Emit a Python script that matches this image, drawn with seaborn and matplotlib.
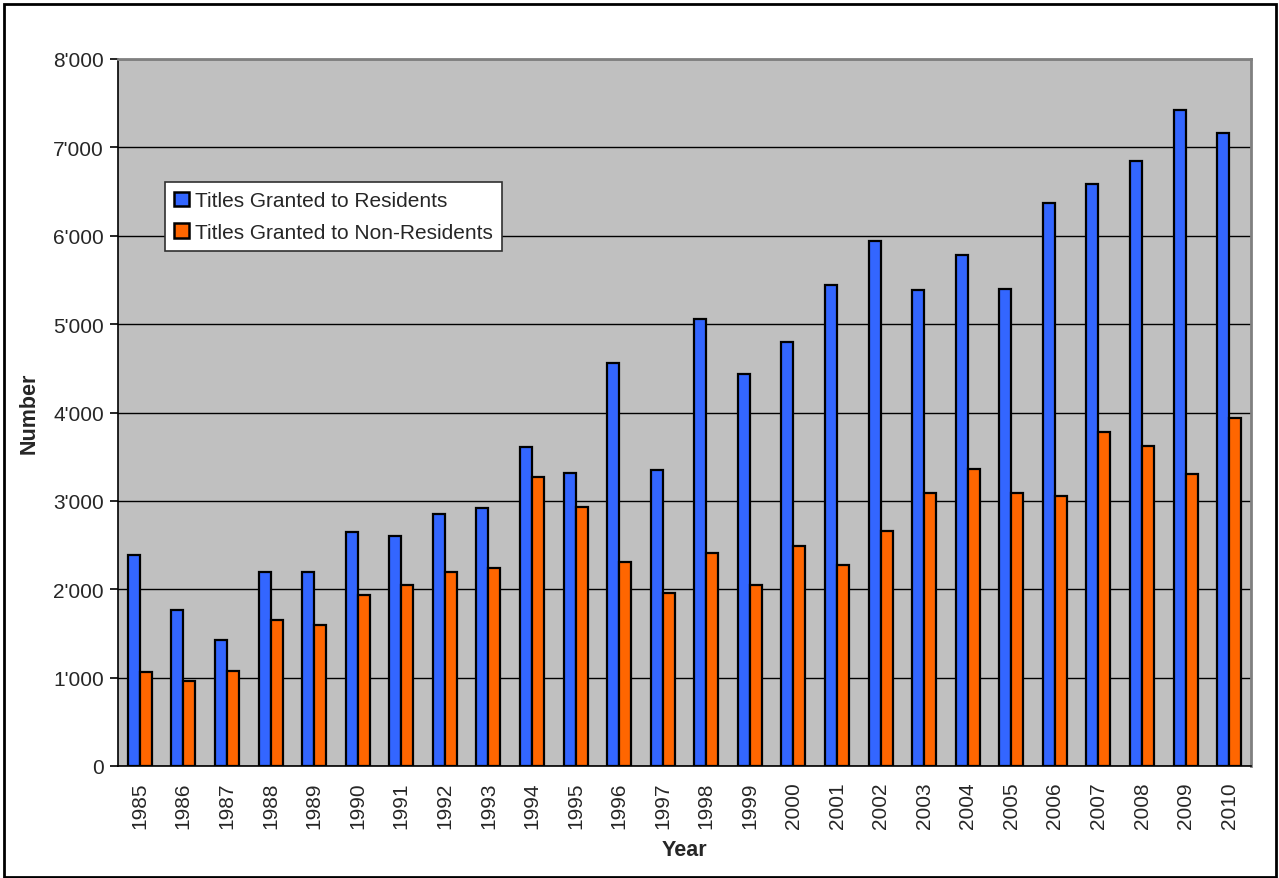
import pandas as pd
import seaborn as sns
import matplotlib.pyplot as plt
from matplotlib.patches import Rectangle
from matplotlib.ticker import FuncFormatter, FixedLocator

years = list(range(1985, 2011))
residents = [2390, 1770, 1425, 2200, 2200, 2652, 2604, 2853, 2925, 3605, 3316, 4555,
             3355, 5055, 4438, 4800, 5438, 5935, 5381, 5781, 5396, 6374, 6585, 6849,
             7423, 7166]
non_residents = [1068, 966, 1078, 1657, 1592, 1940, 2045, 2200, 2242, 3268, 2928, 2313,
                 1955, 2415, 2053, 2487, 2275, 2657, 3087, 3358, 3094, 3057, 3785, 3623,
                 3309, 3943]
series_names = ["Titles Granted to Residents", "Titles Granted to Non-Residents"]
series_colors = ["#3366FF", "#FF6600"]

df = pd.DataFrame({
    "Year": [str(y) for y in years] * 2,
    "Number": residents + non_residents,
    "Series": [series_names[0]] * len(years) + [series_names[1]] * len(years),
})

sns.set_style("white")
plt.rcParams["font.family"] = ["Liberation Sans", "DejaVu Sans"]

fig = plt.figure(figsize=(12.79, 8.79), dpi=100)
ax = fig.add_axes([118 / 1279, 1 - 767 / 879, (1251 - 118) / 1279, (767 - 60) / 879])
ax.set_facecolor("#C0C0C0")

sns.barplot(data=df, x="Year", y="Number", hue="Series", palette=series_colors,
            saturation=1, width=0.55, edgecolor="black", linewidth=1.6, ax=ax, zorder=3)

ax.set_ylim(0, 8000)
ax.set_xlim(-0.5, len(years) - 0.5)
ax.set_yticks(range(0, 8001, 1000))
ax.yaxis.set_major_formatter(FuncFormatter(lambda v, p: f"{int(v):,}".replace(",", "'")))
ax.grid(axis="y", color="black", linewidth=1.0, zorder=0)
ax.set_axisbelow(True)

# year labels at centres, tick marks on the category boundaries
ax.tick_params(axis="x", which="major", length=0, labelsize=15, labelrotation=90, pad=11)
ax.xaxis.set_minor_locator(FixedLocator([i - 0.5 for i in range(len(years) + 1)]))
ax.tick_params(axis="x", which="minor", length=6, width=1.2, color="black", direction="out")
ax.tick_params(axis="y", length=6, width=1.2, color="black", direction="out",
               labelsize=15, left=True, pad=4)

for side in ["top", "right"]:
    ax.spines[side].set_color("#808080")
    ax.spines[side].set_linewidth(2)
ax.spines["left"].set_color("black")
ax.spines["bottom"].set_color("black")
ax.spines["left"].set_linewidth(1.2)
ax.spines["bottom"].set_linewidth(1.2)

ax.set_xlabel("Year", fontsize=15.5, fontweight="bold", labelpad=8)
ax.set_ylabel("Number", fontsize=15.5, fontweight="bold", labelpad=10)

leg = ax.legend(loc="upper left", bbox_to_anchor=(0.0415, 0.826), borderaxespad=0,
                fontsize=15, fancybox=False, frameon=True, framealpha=1,
                facecolor="white", handlelength=0.7, handleheight=0.7,
                handletextpad=0.3, labelspacing=0.6, borderpad=0.45, title=None)
leg.get_frame().set_edgecolor("#303030")
leg.get_frame().set_linewidth(1.2)
for h in leg.legend_handles:
    h.set_edgecolor("black")
    h.set_linewidth(1.8)

fig.patches.append(Rectangle((4 / 1279, 1 / 879), 1272 / 1279, 873 / 879,
                             transform=fig.transFigure, fill=False,
                             edgecolor="black", linewidth=2))

fig.savefig("out.png", dpi=100)
